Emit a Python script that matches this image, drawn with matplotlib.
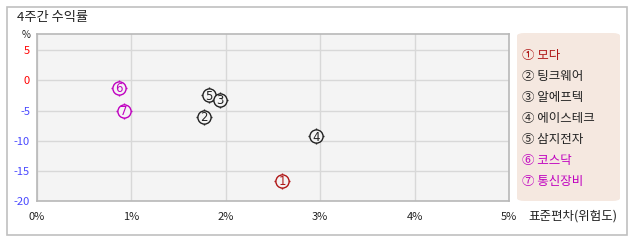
import matplotlib
matplotlib.use("Agg")
import matplotlib.pyplot as plt
from matplotlib.patches import Rectangle, FancyBboxPatch

plt.rcParams['font.family'] = ['Noto Sans CJK KR', 'DejaVu Sans']

# data
names = ["모다", "팅크웨어", "알에프텍", "에이스테크", "삼지전자", "코스닥", "통신장비"]
marks = ["①", "②", "③", "④", "⑤", "⑥", "⑦"]
digits = ["1", "2", "3", "4", "5", "6", "7"]
risk = [2.60, 1.77, 1.94, 2.96, 1.82, 0.87, 0.92]
ret = [-16.6, -6.0, -3.2, -9.3, -2.5, -1.2, -5.05]
colors = ["#b01818", "#222222", "#222222", "#222222", "#222222", "#c000c0", "#c000c0"]
xticks = [0, 1, 2, 3, 4, 5]
yticks = [5, 0, -5, -10, -15, -20]

W, H = 638, 242
fig = plt.figure(figsize=(W / 100, H / 100), dpi=100)


def fx(px):
    return px / W


def fy(py):
    return 1 - py / H


# outer frame
fig.patches.append(Rectangle((fx(7), fy(235)), fx(620), 228 / H, transform=fig.transFigure,
                             facecolor="none", edgecolor="#c0c0c0", lw=1.2, zorder=-1))

ax = fig.add_axes([fx(37), fy(201), fx(472), 167 / H])
ax.set_facecolor("#f4f4f4")
ax.set_xlim(0, 5)
ax.set_ylim(-20, 7.7)
ax.set_xticks(xticks)
ax.set_yticks(yticks)
ax.grid(True, color="#d8d8d8", lw=1)
ax.set_axisbelow(True)
for s in ax.spines.values():
    s.set_color("#b8b8b8")
    s.set_linewidth(1.2)
ax.tick_params(length=0, labelsize=8, pad=8)
ax.set_xticklabels([f"{t}%" for t in xticks], color="#222222")
ax.set_yticklabels([str(t) for t in yticks])
ax.tick_params(axis="y", pad=5)
for lab, t in zip(ax.get_yticklabels(), yticks):
    lab.set_color("#ff0000" if t >= 0 else "#4848ff")

n = len(names)
for i in range(n):
    z = 10 + (n - i) * 3
    if i == 4:
        z = 5
    ax.plot(risk[i], ret[i], marker="+", ms=11.5, mew=1, color=colors[i], zorder=z)
    ax.plot(risk[i], ret[i], marker="o", ms=9.5, mew=1, mec=colors[i], mfc="#f4f4f4", zorder=z + 1)
    ax.text(risk[i], ret[i] - 0.1, digits[i], color=colors[i], fontsize=8.5, ha="center", va="center",
            zorder=z + 2, family="DejaVu Sans")

# title and axis captions
fig.text(fx(17), fy(17), "4주간 수익률", fontsize=9.5, va="center", color="#222222")
fig.text(fx(26), fy(35), "%", fontsize=7, va="center", ha="center", color="#222222")
fig.text(fx(528), fy(216), "표준편차(위험도)", fontsize=9, va="center", color="#222222")

# legend box
fig.patches.append(FancyBboxPatch((fx(517), fy(201)), fx(103), 168 / H, transform=fig.transFigure,
                                  boxstyle="round,pad=0,rounding_size=0.012",
                                  facecolor="#f5e8e0", edgecolor="none"))
for i in range(n):
    fig.text(fx(522), fy(55 + i * 21.1), f"{marks[i]} {names[i]}", fontsize=9, va="center",
             color=colors[i])

fig.savefig("out.png", dpi=100)
